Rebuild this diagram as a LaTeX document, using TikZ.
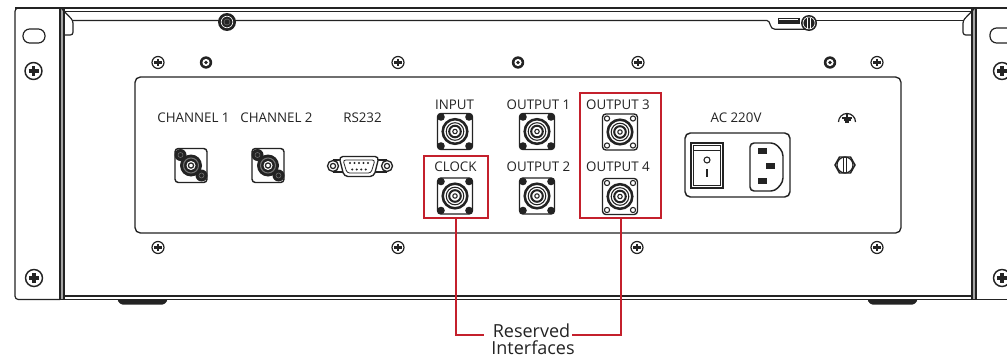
\documentclass[tikz,border=0pt]{standalone}
\usepackage{fontspec}
\setmainfont{Open Sans}
\definecolor{resred}{RGB}{196,32,44}
\definecolor{ink}{RGB}{35,35,35}
\begin{document}
\begin{tikzpicture}[x=0.75pt,y=-0.75pt,
  outl/.style={line width=0.9pt, draw=ink},
  thinl/.style={line width=0.6pt, draw=ink},
  lbl/.style={font=\fontsize{10}{12}\selectfont, text=ink, anchor=base, inner sep=0pt},
  biglbl/.style={font=\fontsize{13.5}{15}\selectfont, text=ink, anchor=base, inner sep=0pt},
  redbox/.style={draw=resred, line width=1.5pt, inner sep=0pt},
  redline/.style={draw=resred, line width=1.5pt},
  phil/.pic={
    \draw[line width=0.9pt, draw=ink, fill=white] (0,0) circle (6);
    \draw[line width=1.7pt, draw=ink] (-3.6,0) -- (3.6,0) (0,-3.6) -- (0,3.6);
  },
  bigphil/.pic={
    \draw[line width=1.1pt, draw=ink, fill=white] (0,0) circle (8.5);
    \draw[line width=2.3pt, draw=ink] (-5,0) -- (5,0) (0,-5) -- (0,5);
  },
  nut/.pic={
    \fill[ink] (0,0) circle (6.2);
    \fill[white] (0,0) circle (3.6);
    \fill[ink] (0,0) circle (1.8);
  },
  bnc/.pic={
    \draw[line width=1pt, draw=ink, fill=white, rounded corners=2.5pt] (-17.5,-18) rectangle (17.5,18);
    \foreach \sx/\sy in {-14/-14.5,14/-14.5,-14/14.5,14/14.5}
      \fill[ink] (\sx,\sy) circle (3.8);
    \draw[line width=1.9pt, draw=ink] (0,0) circle (12.3);
    \draw[line width=0.8pt, draw=ink] (0,0) circle (8.8);
    \draw[line width=1.5pt, draw=ink] (0,0) circle (5.8);
    \draw[line width=0.8pt, draw=ink] (0,0) circle (2.2);
  },
  bncopen/.pic={
    \draw[line width=1pt, draw=ink, fill=white, rounded corners=2.5pt] (-17.5,-18) rectangle (17.5,18);
    \foreach \sx/\sy in {-13/-13.5,13/-13.5,-13/13.5,13/13.5}
      \draw[line width=0.8pt, draw=ink] (\sx,\sy) circle (2.6);
    \draw[line width=1.9pt, draw=ink] (0,0) circle (12.3);
    \draw[line width=0.8pt, draw=ink] (0,0) circle (8.8);
    \draw[line width=1.5pt, draw=ink] (0,0) circle (5.8);
    \draw[line width=0.8pt, draw=ink] (0,0) circle (2.2);
  },
  chan/.pic={
    \draw[line width=1.1pt, draw=ink, rounded corners=2.5pt] (-16,-17) rectangle (16,17);
    \fill[ink] (-10.5,-10.5) circle (6);
    \fill[ink] (10.5,10) circle (6);
    \draw[black!55, line width=0.4pt] (-10.5,-10.5) circle (2.5);
    \draw[black!55, line width=0.4pt] (10.5,10) circle (2.5);
    \fill[ink] (0,0) circle (11);
    \draw[black!55, line width=0.8pt] (0,0) circle (7.5);
    \fill[white] (0,0) circle (4.5);
    \draw[ink, line width=0.9pt] (0,0) circle (2.6);
  },
]
\clip (0,0) rectangle (1007,357);
\fill[white] (0,0) rectangle (1007,357);

% ---------- rack ears and chassis ----------
\draw[outl, rounded corners=2.5pt] (60,8) -- (15,8) -- (15,299.5) -- (60,299.5);
\draw[outl, rounded corners=5pt] (23,29) rectangle (45,43);
\pic at (33.5,71) {bigphil};
\pic at (34,278) {bigphil};

\draw[outl, rounded corners=5pt] (990,28) rectangle (1025,43);
\pic at (1002,71) {bigphil};
\pic at (1002,278) {bigphil};
\draw[outl] (976,8) -- (1010,8);
\draw[outl] (976,299.5) -- (1010,299.5);

\filldraw[outl, fill=black!35] (60,8) rectangle (64,299.5);
\filldraw[outl, fill=black!35] (972,8) rectangle (976,299.5);

\draw[outl] (15,8) -- (1010,8);
\draw[thinl] (64,11.5) -- (972,11.5);
\draw[outl] (73,20.5) -- (767,20.5) .. controls (771,20.5) and (769,29.3) .. (775,29.3) -- (805,29.3);
\draw[outl] (813,20.5) -- (963,20.5);
\draw[outl, rounded corners=2pt] (62,9) -- (73,20.5) -- (73,35) -- (64,35);
\draw[outl, rounded corners=2pt] (974,9) -- (963,20.5) -- (963,35) -- (972,35);

% top screws
\fill[ink] (227,22) circle (9);
\draw[white, line width=0.5pt] (227,22) circle (5.8);
\draw[black!60, line width=0.5pt] (227,22) circle (3);
\filldraw[fill=ink, draw=white, line width=0.5pt] (777,17) rectangle (800,24);
\draw[white, line width=0.4pt] (779,19.5) -- (798,19.5);
\fill[ink] (809,23) circle (8);
\draw[white, line width=0.5pt] (809,23) circle (6);
\draw[white, line width=0.6pt] (807.5,17.5) -- (807.5,28.5) (810.5,17.5) -- (810.5,28.5);

% bottom
\draw[outl] (64,296) -- (972,296);
\draw[outl] (60,299.5) -- (976,299.5);
\fill[ink, rounded corners=1pt] (117,300) -- (168,300) -- (164,304.5) -- (121,304.5) -- cycle;
\fill[ink, rounded corners=1pt] (867,300) -- (918,300) -- (914,304.5) -- (871,304.5) -- cycle;

% ---------- inner panel ----------
\draw[line width=1pt, draw=ink, rounded corners=4pt] (135,77) rectangle (901,233);

% panel screws
\foreach \px in {158,398,638,877} \pic at (\px,62.5) {phil};
\foreach \px in {206,518,830} \pic at (\px,62.5) {nut};
\foreach \px in {158,398,637,877} \pic at (\px,247.5) {phil};

% ---------- labels ----------
\node[lbl] (lch1) at (193.5,122) {CHANNEL 1};
\node[lbl] (lch2) at (276.5,122) {CHANNEL 2};
\node[lbl] (lrs) at (362.5,122) {RS232};
\node[lbl] (lin) at (454.5,109) {INPUT};
\node[lbl] (lo1) at (538.5,109) {OUTPUT 1};
\node[lbl] (lo3) at (618,109) {OUTPUT 3};
\node[lbl] (lclk) at (455.5,171) {CLOCK};
\node[lbl] (lo2) at (538.5,171) {OUTPUT 2};
\node[lbl] (lo4) at (618,171) {OUTPUT 4};
\node[lbl] (lac) at (736,122) {AC 220V};

% ---------- connectors ----------
\pic at (191,165.5) {chan};
\pic at (268,165.5) {chan};

% RS232
\draw[thinl, line width=0.8pt] (333,160) -- (345,160) (373,160) -- (387,160)
      (333,172) -- (345,172) (373,172) -- (387,172);
\foreach \sx in {333,387} {
  \filldraw[fill=white, draw=ink, line width=1pt] (\sx,166) circle (5.5);
  \draw[ink, line width=0.9pt] (\sx,166) circle (2.6);
}
\draw[outl, line width=1pt, fill=white, rounded corners=3pt] (339,156.5) -- (379,156.5) -- (374,176.5) -- (344,176.5) -- cycle;
\draw[thinl, rounded corners=2pt] (343,160) -- (375,160) -- (371,173) -- (347,173) -- cycle;
\foreach \k in {0,...,4} \fill[ink] (350+\k*4.5,163) circle (1.1);
\foreach \k in {0,...,3} \fill[ink] (352.25+\k*4.5,169.5) circle (1.1);

% BNC
\pic at (455,131.5) {bnc};
\pic at (455,196) {bnc};
\pic at (537,131.5) {bnc};
\pic at (537,196) {bnc};
\pic at (620,132) {bncopen};
\pic at (620,196.5) {bncopen};

% power entry
\draw[line width=1.1pt, draw=ink, rounded corners=4pt] (685,133) rectangle (790,197);
\draw[line width=1.2pt, draw=ink] (691,143) rectangle (723,188);
\draw[thinl] (693.5,145.5) rectangle (720.5,185.5);
\draw[thinl] (693.5,150.5) -- (720.5,150.5);
\draw[ink, line width=0.8pt] (707,160) circle (3);
\draw[ink, line width=0.9pt] (707,169) -- (707,177);
\draw[line width=1.1pt, draw=ink, rounded corners=3pt] (750,143) -- (775,143) -- (783,152) -- (783,182) -- (775,191) -- (750,191) -- cycle;
\filldraw[fill=ink, draw=ink] (758.5,148) rectangle (766.5,153);
\filldraw[fill=ink, draw=ink] (766.5,163.5) rectangle (774.5,168.5);
\filldraw[fill=ink, draw=ink] (758.5,178) rectangle (766.5,183);

% ground symbol and terminal
\draw[ink, line width=0.9pt] (838.5,122) arc (180:360:8.5);
\draw[ink, line width=0.9pt] (847,113.5) -- (847,118);
\draw[ink, line width=0.9pt] (842,118) -- (852,118);
\draw[ink, line width=0.9pt] (843.5,120) -- (850.5,120);
\draw[ink, line width=0.9pt] (845.3,122) -- (848.7,122);
\draw[ink, line width=1.1pt] (835,165) -- (839.5,157) -- (850.5,157) -- (855,165) -- (850.5,173) -- (839.5,173) -- cycle;
\draw[ink, line width=0.9pt] (845,165) circle (8);
\draw[ink, line width=0.8pt] (843.8,157) -- (843.8,173) (846.2,157) -- (846.2,173);

% ---------- reserved interfaces ----------
\node[redbox, minimum width=48pt, minimum height=46.5pt] (clkbox) at (456,187) {};
\node[redbox, minimum width=60.75pt, minimum height=93.75pt] (outbox) at (620.5,155.5) {};
\node[biglbl] (resv) at (531.5,337) {Reserved};
\node[biglbl] (intf) at (533,354) {Interfaces};
\coordinate (rl) at (484,334.5);
\coordinate (rr) at (572,334.5);
\draw[redline] (clkbox.south) |- (rl);
\draw[redline] (outbox.south) |- (rr);
\end{tikzpicture}
\end{document}
